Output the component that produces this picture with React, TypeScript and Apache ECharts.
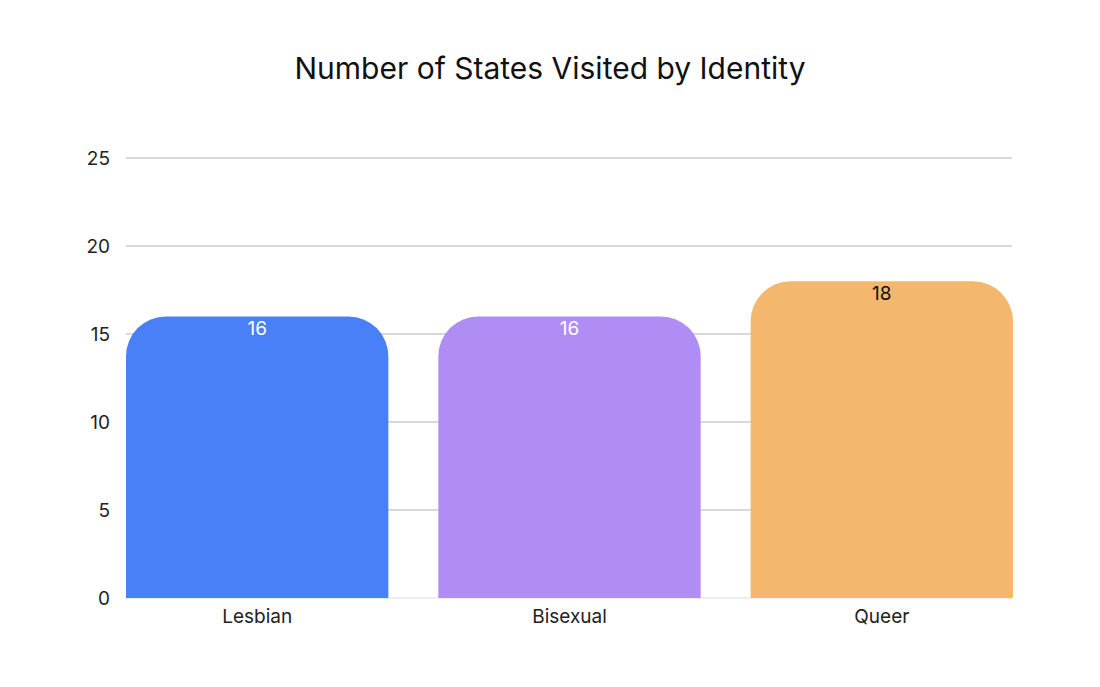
import React, { useEffect, useRef } from "react";
import * as echarts from "echarts";

const categories = ["Lesbian", "Bisexual", "Queer"];
const values = [16, 16, 18];
const barColors = ["#4A80F7", "#AF8DF5", "#F3B86E"];
const labelColors = ["#ffffff", "#ffffff", "#111111"];

export default function App() {
  const ref = useRef<HTMLDivElement>(null);
  useEffect(() => {
    document.body.style.margin = "0";
    const chart = echarts.init(ref.current!, null, { renderer: "svg" });
    chart.setOption({
      animation: false,
      backgroundColor: "#ffffff",
      textStyle: { fontFamily: "Inter" },
      title: {
        text: "Number of States Visited by Identity",
        left: "center",
        top: 48,
        textStyle: { fontSize: 30, fontWeight: "normal", color: "#111", fontFamily: "Inter" },
      },
      grid: [
        { left: 126, right: 88, top: 158, bottom: 89 },
        { left: 101, right: 62, top: 158, bottom: 89 },
      ],
      xAxis: [
        {
          type: "value",
          gridIndex: 0,
          show: false,
          min: 0,
          max: 1,
        },
        {
          type: "category",
          gridIndex: 1,
          data: categories,
          axisLine: { show: false },
          axisTick: { show: false },
          axisLabel: { fontSize: 19, color: "#222", margin: 9, fontFamily: "Inter" },
        },
      ],
      yAxis: [
        {
          type: "value",
          gridIndex: 0,
          min: 0,
          max: 25,
          interval: 5,
          axisLine: { show: false },
          axisTick: { show: false },
          splitLine: {
            lineStyle: {
              color: ["#e8e8e8", "#cccccc", "#cccccc", "#cccccc", "#cccccc", "#cccccc"],
              width: 1.5,
            },
          },
          axisLabel: { fontSize: 19, color: "#222", margin: 16, fontFamily: "Inter" },
        },
        {
          type: "value",
          gridIndex: 1,
          min: 0,
          max: 25,
          interval: 5,
          show: false,
          splitLine: { show: false },
        },
      ],
      series: [
        {
          type: "bar",
          xAxisIndex: 1,
          yAxisIndex: 1,
          barCategoryGap: "16%",
          data: values.map((v, i) => ({
            value: v,
            itemStyle: { color: barColors[i], borderRadius: [40, 40, 0, 0] },
            label: { color: labelColors[i] },
          })),
          label: {
            show: true,
            position: "insideTop",
            distance: 3,
            fontSize: 19,
            fontFamily: "Inter",
          },
        },
      ],
    });
    return () => chart.dispose();
  }, []);
  return <div ref={ref} style={{ width: 1100, height: 687 }} />;
}
